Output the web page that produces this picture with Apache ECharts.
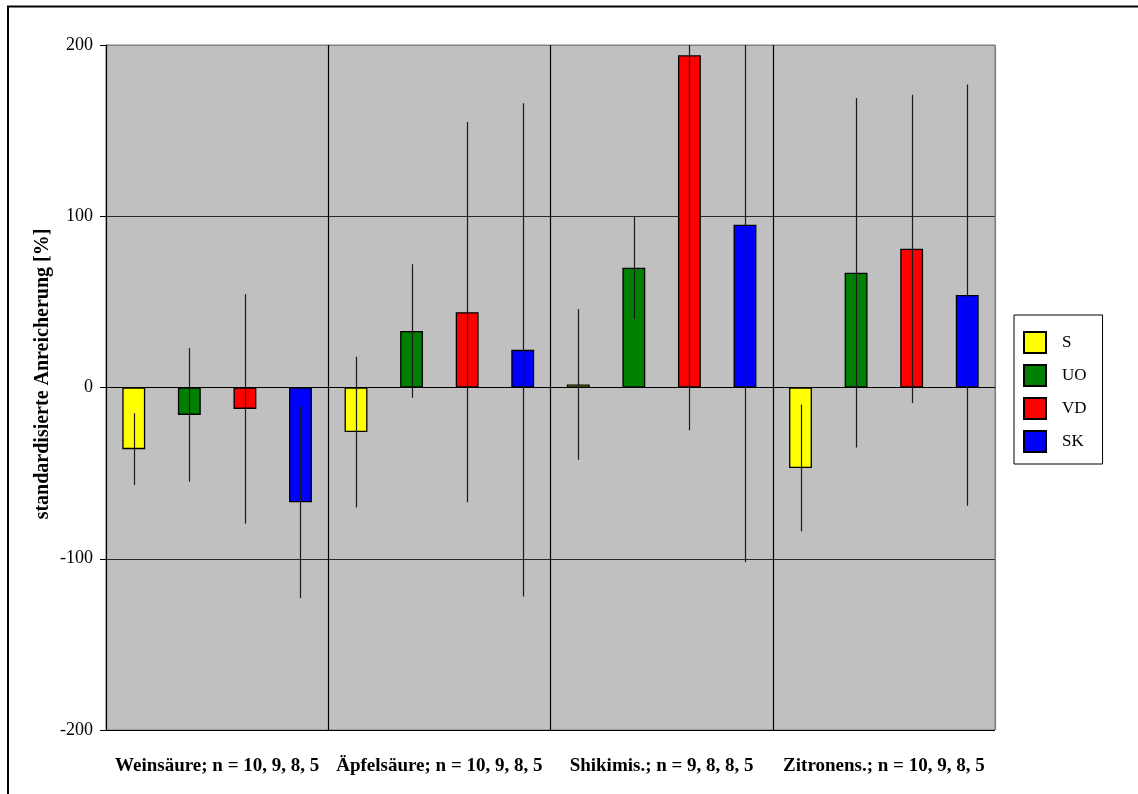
<!DOCTYPE html>
<html>
<head>
<meta charset="utf-8">
<script src="https://cdn.jsdelivr.net/npm/echarts@6/dist/echarts.min.js"></script>
<style>
  html, body { margin: 0; padding: 0; background: #fff; }
  #chart { width: 1138px; height: 794px; }
</style>
</head>
<body>
<div id="chart"></div>
<script>
// Acid categories with sample sizes
const categories = [
  'Weinsäure; n = 10, 9, 8, 5',
  'Äpfelsäure; n = 10, 9, 8, 5',
  'Shikimis.; n = 9, 8, 8, 5',
  'Zitronens.; n = 10, 9, 8, 5'
];

// Site groups
const groups = ['S', 'UO', 'VD', 'SK'];
const groupColors = ['#FFFF00', '#008000', '#FF0000', '#0000FF'];

// Mean standardised enrichment [%]
const valuesS  = [-36, -26, 1.8, -47];
const valuesUO = [-16, 33, 70, 67];
const valuesVD = [-12.5, 44, 194, 81];
const valuesSK = [-67, 22, 95, 54];

// Standard deviations [%]
const errorsS  = [21, 44, 44, 37];
const errorsUO = [39, 39, 30, 102];
const errorsVD = [67, 111, 219, 90];
const errorsSK = [56, 144, 197, 123];

// Y axis ticks
const yTicks = [-200, -100, 0, 100, 200];

const values = [valuesS, valuesUO, valuesVD, valuesSK];
const errors = [errorsS, errorsUO, errorsVD, errorsSK];

const serif = '"Liberation Serif", "DejaVu Serif", serif';

const chart = echarts.init(document.getElementById('chart'));

const barSeries = groups.map((name, i) => ({
  name: name,
  type: 'bar',
  data: values[i],
  barGap: '143%',
  barCategoryGap: '14.7%',
  itemStyle: { color: groupColors[i], borderColor: '#000', borderWidth: 1.3 },
  emphasis: { disabled: true },
  z: 2
}));

// Error bars: vertical line through the bar end, centred on each bar
const errorSeries = groups.map((name, i) => ({
  type: 'custom',
  name: name + ' SD',
  clip: true,
  z: 5,
  data: values[i].map((v, k) => [k, v - errors[i][k], v + errors[i][k]]),
  renderItem: function (params, api) {
    const cat = api.value(0);
    const lo = api.coord([cat, api.value(1)]);
    const hi = api.coord([cat, api.value(2)]);
    const band = api.size([1, 0])[0];
    const x = Math.round(lo[0] + (i - 1.5) * band * 0.25) + 0.5;
    return {
      type: 'line',
      shape: { x1: x, y1: lo[1], x2: x, y2: hi[1] },
      style: { stroke: '#1a1a1a', lineWidth: 1.2 }
    };
  },
  silent: true
}));

chart.setOption({
  animation: false,
  backgroundColor: '#fff',
  textStyle: { fontFamily: serif },
  grid: {
    left: 106, right: 143, top: 45, bottom: 64,
    show: true, backgroundColor: '#C0C0C0',
    borderColor: '#808080', borderWidth: 1
  },
  legend: {
    orient: 'vertical',
    left: 1014, top: 315,
    data: groups,
    backgroundColor: '#fff',
    borderColor: '#000', borderWidth: 1,
    padding: [16, 16, 11, 9],
    itemWidth: 22, itemHeight: 21, itemGap: 10,
    icon: 'rect',
    selectedMode: false,
    textStyle: { fontFamily: serif, fontSize: 17, color: '#000', padding: [0, 0, 0, 11] }
  },
  xAxis: {
    type: 'category',
    data: categories,
    axisLine: { show: true, lineStyle: { color: '#000', width: 1 } },
    axisTick: { show: false },
    splitLine: {
      show: true, interval: 0,
      lineStyle: { color: ['#000', '#000', '#000', '#000', '#808080'], width: 1.2 }
    },
    axisLabel: {
      interval: 0, margin: 27,
      fontFamily: serif, fontSize: 19, fontWeight: 'bold', color: '#000'
    }
  },
  yAxis: {
    type: 'value',
    min: yTicks[0], max: yTicks[yTicks.length - 1], interval: 100,
    axisLine: { show: true, lineStyle: { color: '#000', width: 1 } },
    axisTick: { show: true, inside: false, length: 6, lineStyle: { color: '#000' } },
    splitLine: {
      show: true,
      lineStyle: { color: ['#000', '#2a2a2a', '#2a2a2a', '#2a2a2a', '#808080'], width: 1 }
    },
    axisLabel: {
      margin: 13, fontFamily: serif, fontSize: 18, color: '#000',
      formatter: v => (yTicks.includes(v) ? String(v) : '')
    }
  },
  graphic: [
    {
      type: 'rect',
      shape: { x: 8, y: 6.5, width: 1300, height: 1000 },
      style: { fill: 'none', stroke: '#000', lineWidth: 2 },
      silent: true, z: 100
    },
    {
      type: 'text',
      x: 43, y: 374,
      rotation: Math.PI / 2,
      style: {
        text: 'standardisierte Anreicherung [%]',
        fontFamily: serif, fontSize: 20, fontWeight: 'bold', fill: '#000',
        textAlign: 'center', textVerticalAlign: 'middle'
      },
      silent: true
    }
  ],
  series: barSeries.concat(errorSeries)
});
</script>
</body>
</html>
